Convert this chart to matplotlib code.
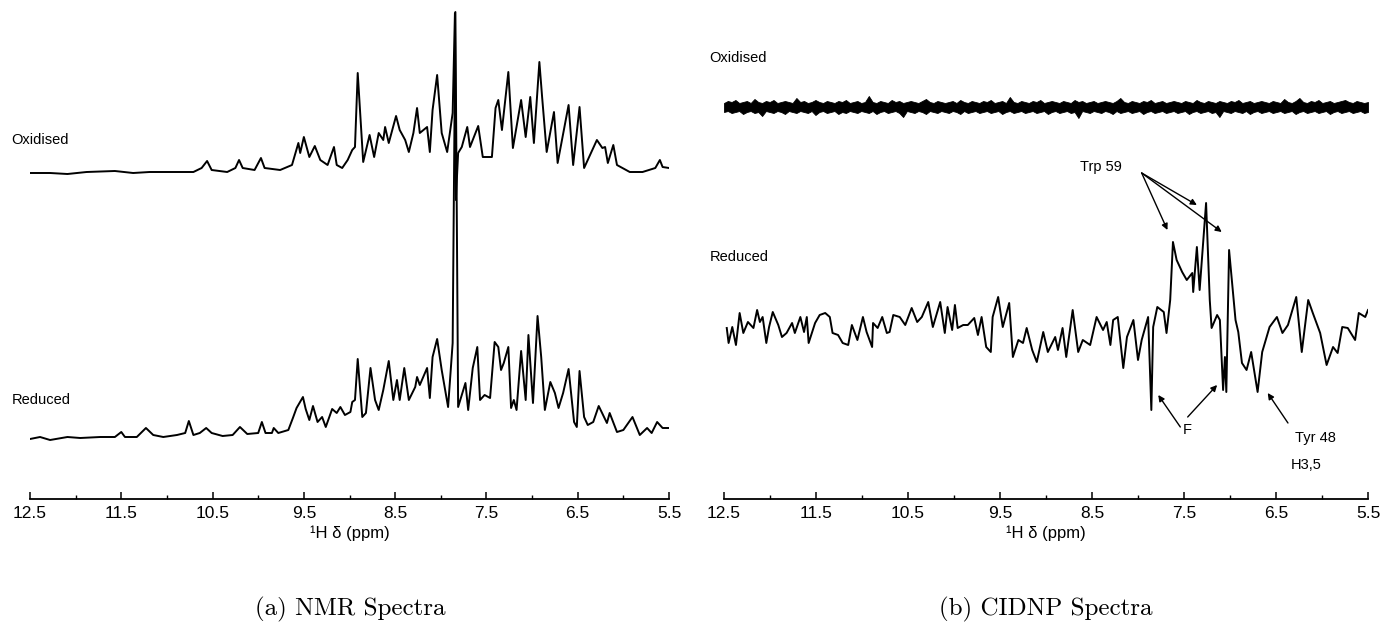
from matplotlib import pyplot as plt
import numpy as np

# Chemical shift limits shared by both panels.
ppmStart = 12.5
ppmEnd = 5.5

# (a) NMR, oxidised trace: shift (ppm) and intensity (a.u.).
nmrOxPpm = [12.50, 12.28, 12.09, 11.88, 11.57, 11.37, 11.19, 10.93, 10.71, 10.62,
            10.56, 10.51, 10.34, 10.25, 10.21, 10.17, 10.04, 9.97, 9.93, 9.76,
            9.63, 9.56, 9.54, 9.50, 9.44, 9.38, 9.32, 9.24, 9.17, 9.14,
            9.08, 9.02, 8.97, 8.94, 8.91, 8.85, 8.78, 8.73, 8.68, 8.63,
            8.61, 8.57, 8.49, 8.45, 8.39, 8.35, 8.30, 8.26, 8.23, 8.15,
            8.12, 8.09, 8.04, 7.99, 7.93, 7.87, 7.845, 7.835, 7.81, 7.77,
            7.71, 7.68, 7.59, 7.54, 7.44, 7.40, 7.37, 7.33, 7.26, 7.21,
            7.12, 7.07, 7.02, 6.98, 6.92, 6.89, 6.84, 6.76, 6.72, 6.60,
            6.55, 6.48, 6.43, 6.29, 6.23, 6.20, 6.17, 6.11, 6.07, 5.93,
            5.79, 5.65, 5.60, 5.57, 5.50]
nmrOxInt = [0, 0, -1, 1, 2, 0, 1, 1, 1, 5,
            12, 3, 1, 5, 13, 5, 3, 15, 5, 3,
            8, 30, 20, 36, 16, 27, 13, 8, 26, 8,
            5, 13, 23, 26, 100, 11, 38, 16, 40, 33,
            46, 30, 57, 43, 33, 21, 40, 65, 40, 46,
            21, 63, 98, 40, 21, 60, 160, -27, 20, 26,
            46, 26, 47, 16, 16, 65, 73, 43, 101, 25,
            73, 36, 76, 30, 111, 76, 21, 61, 10, 68,
            8, 66, 5, 33, 25, 26, 10, 28, 8, 1,
            1, 5, 13, 6, 5]

# (a) NMR, reduced trace.
nmrRedPpm = [12.50, 12.39, 12.28, 12.09, 11.95, 11.73, 11.57, 11.50, 11.46, 11.33,
             11.23, 11.15, 11.04, 10.89, 10.80, 10.76, 10.71, 10.64, 10.57, 10.51,
             10.39, 10.28, 10.20, 10.12, 10.00, 9.96, 9.92, 9.85, 9.83, 9.78,
             9.67, 9.62, 9.58, 9.51, 9.48, 9.44, 9.40, 9.35, 9.30, 9.26,
             9.19, 9.14, 9.10, 9.05, 8.99, 8.97, 8.94, 8.91, 8.86, 8.82,
             8.77, 8.72, 8.68, 8.63, 8.57, 8.52, 8.48, 8.45, 8.40, 8.35,
             8.28, 8.26, 8.23, 8.15, 8.12, 8.09, 8.04, 7.99, 7.92, 7.87,
             7.84, 7.81, 7.77, 7.73, 7.70, 7.65, 7.60, 7.57, 7.52, 7.46,
             7.41, 7.37, 7.34, 7.31, 7.26, 7.23, 7.20, 7.17, 7.12, 7.07,
             7.04, 6.99, 6.94, 6.90, 6.86, 6.80, 6.75, 6.71, 6.66, 6.60,
             6.54, 6.51, 6.48, 6.43, 6.39, 6.33, 6.27, 6.18, 6.15, 6.07,
             6.00, 5.90, 5.82, 5.74, 5.69, 5.63, 5.57, 5.50]
nmrRedInt = [0, 2, -1, 2, 1, 2, 2, 7, 2, 2,
             11, 4, 2, 4, 6, 18, 4, 6, 11, 6,
             3, 4, 12, 5, 6, 17, 6, 6, 11, 6,
             9, 21, 31, 42, 30, 19, 33, 17, 22, 12,
             30, 26, 32, 24, 27, 37, 39, 80, 22, 26,
             71, 39, 29, 49, 78, 39, 59, 39, 71, 39,
             52, 62, 54, 71, 41, 82, 100, 69, 32, 96,
             427, 32, 44, 56, 29, 71, 92, 39, 44, 41,
             97, 92, 69, 76, 92, 31, 39, 29, 88, 39,
             104, 36, 123, 82, 29, 57, 46, 31, 46, 70,
             17, 12, 68, 22, 14, 17, 33, 16, 26, 7,
             9, 22, 4, 11, 6, 17, 11, 11]

# (b) CIDNP, oxidised trace: a flat noise band, upper and lower envelope (a.u.).
cidnpOxUpper = [4, 6, 5, 7, 4, 5, 6, 4, 8, 5, 4, 6, 5, 7, 4, 5, 6, 5, 4, 9,
                5, 6, 4, 5, 7, 5, 4, 6, 5, 4, 6, 5, 7, 4, 5, 6, 4, 5, 11, 5,
                4, 6, 5, 4, 7, 5, 6, 4, 5, 6, 5, 4, 6, 8, 5, 4, 6, 5, 4, 5,
                6, 4, 7, 5, 4, 6, 5, 4, 6, 5, 7, 4, 5, 6, 4, 10, 5, 4, 6, 5,
                4, 6, 5, 7, 4, 5, 6, 5, 4, 6, 5, 4, 7, 5, 6, 4, 5, 6, 4, 5,
                6, 5, 4, 6, 9, 5, 4, 6, 5, 4, 6, 5, 7, 4, 5, 6, 4, 5, 6, 5,
                4, 6, 5, 4, 7, 5, 4, 6, 5, 4, 6, 5, 4, 6, 5, 7, 4, 5, 6, 4,
                5, 6, 5, 4, 6, 5, 4, 8, 5, 4, 6, 9, 5, 4, 6, 5, 7, 4, 5, 6,
                4, 5, 6, 7, 5, 4, 6, 5, 4, 5]
cidnpOxLower = [5, 4, 6, 5, 4, 7, 5, 4, 6, 5, 9, 4, 5, 6, 4, 5, 7, 4, 5, 6,
                4, 5, 6, 4, 8, 5, 4, 6, 5, 4, 7, 5, 6, 4, 5, 6, 4, 5, 6, 4,
                7, 5, 4, 6, 5, 4, 6, 10, 4, 5, 6, 4, 5, 7, 4, 5, 6, 4, 5, 6,
                4, 5, 7, 4, 6, 5, 4, 6, 5, 4, 6, 5, 4, 7, 5, 4, 6, 5, 4, 6,
                5, 4, 6, 5, 4, 7, 5, 4, 6, 5, 4, 6, 5, 11, 4, 5, 6, 4, 5, 6,
                4, 5, 7, 4, 6, 5, 4, 6, 5, 4, 7, 5, 4, 6, 5, 4, 6, 5, 4, 6,
                5, 4, 7, 5, 4, 6, 5, 4, 6, 5, 10, 4, 5, 6, 4, 5, 6, 4, 7, 5,
                4, 6, 5, 4, 6, 5, 4, 6, 5, 4, 7, 5, 4, 6, 5, 4, 6, 5, 4, 7,
                5, 4, 6, 5, 4, 6, 5, 4, 6, 5]

# (b) CIDNP, reduced trace.
cidnpRedPpm = [12.47, 12.45, 12.41, 12.37, 12.33, 12.29, 12.24, 12.18, 12.14, 12.11,
               12.08, 12.04, 12.01, 11.97, 11.91, 11.87, 11.82, 11.76, 11.73, 11.67,
               11.63, 11.60, 11.58, 11.51, 11.46, 11.40, 11.35, 11.32, 11.26, 11.21,
               11.15, 11.11, 11.05, 10.99, 10.95, 10.89, 10.88, 10.83, 10.78, 10.73,
               10.70, 10.66, 10.59, 10.53, 10.46, 10.40, 10.35, 10.28, 10.23, 10.15,
               10.10, 10.07, 10.02, 9.99, 9.96, 9.90, 9.85, 9.78, 9.74, 9.70,
               9.65, 9.60, 9.58, 9.52, 9.47, 9.40, 9.36, 9.30, 9.25, 9.21,
               9.15, 9.10, 9.03, 8.98, 8.90, 8.87, 8.82, 8.78, 8.71, 8.65,
               8.60, 8.52, 8.45, 8.38, 8.34, 8.30, 8.27, 8.22, 8.16, 8.12,
               8.05, 8.00, 7.96, 7.89, 7.855, 7.835, 7.79, 7.72, 7.69, 7.65,
               7.62, 7.58, 7.52, 7.47, 7.41, 7.40, 7.36, 7.33, 7.26, 7.22,
               7.20, 7.14, 7.11, 7.075, 7.055, 7.04, 7.01, 6.94, 6.91, 6.87,
               6.82, 6.77, 6.70, 6.65, 6.57, 6.49, 6.43, 6.37, 6.28, 6.22,
               6.15, 6.10, 6.02, 5.95, 5.88, 5.83, 5.78, 5.72, 5.64, 5.60,
               5.53, 5.50]
cidnpRedInt = [2, -13, 3, -15, 17, -3, 8, 2, 20, 8,
               13, -13, 3, 18, 5, -7, -3, 7, -3, 13,
               -2, 13, -13, 7, 15, 17, 13, -3, -5, -13,
               -15, 5, -10, 13, -2, -17, 7, 2, 13, -3,
               -2, 15, 13, 5, 22, 8, 13, 28, 3, 28,
               -3, 23, 0, 25, 2, 5, 5, 12, -5, 13,
               -17, -22, 13, 33, 3, 27, -27, -10, -13, 2,
               -20, -32, -2, -22, -7, -20, 2, -27, 20, -22,
               -10, -15, 13, 0, 8, -15, 10, 13, -38, -7,
               10, -30, -10, 13, -80, 3, 23, 18, -3, 30,
               88, 70, 58, 50, 57, 38, 83, 40, 127, 30,
               2, 15, 10, -60, -27, -62, 80, 10, -2, -33,
               -40, -22, -62, -22, 3, 13, -3, 5, 33, -22,
               30, 17, -3, -35, -17, -23, 3, 2, -10, 17,
               13, 20]

# Vertical offsets of the stacked traces (a.u. above the shift axis).
nmrOffsets = {'Oxidised': 326, 'Reduced': 60}
cidnpOffsets = {'Oxidised': 392, 'Reduced': 169}

lineKw = dict(color='black', lw=1.4, solid_joinstyle='round')
labelFont = dict(family='Liberation Sans', size=10.5)
figW, figH = 1387, 640


def styleShiftAxis(ax):
  ax.set_xlim(ppmStart, ppmEnd)
  ax.set_ylim(0, 499)
  for side in ['top', 'left', 'right']:
    ax.spines[side].set_visible(False)
  ax.spines['bottom'].set_linewidth(1.3)
  ax.set_yticks([])
  ax.set_xticks(np.arange(12.5, 5.4, -1.0))
  ax.set_xticks(np.arange(12.0, 5.9, -1.0), minor=True)
  ax.set_xticklabels(['12.5', '11.5', '10.5', '9.5', '8.5', '7.5', '6.5', '5.5'])
  ax.tick_params(axis='x', which='major', direction='in', length=5, width=1.1,
                 pad=5, labelsize=12.5)
  ax.tick_params(axis='x', which='minor', direction='in', length=3, width=1.0)
  for lab in ax.get_xticklabels():
    lab.set_family('Liberation Sans')
  ax.set_xlabel('\u00b9H \u03b4 (ppm)', fontsize=12, family='Liberation Sans',
                labelpad=3)


def generatePlot():
  fig = plt.figure(figsize=(figW / 100, figH / 100), dpi=100)
  bottom = 1 - 499 / figH
  axNmr = fig.add_axes([30 / figW, bottom, 639 / figW, 499 / figH])
  axCidnp = fig.add_axes([724 / figW, bottom, 644 / figW, 499 / figH])
  for ax in (axNmr, axCidnp):
    ax.patch.set_visible(False)
    styleShiftAxis(ax)

  # (a) NMR spectra.
  axNmr.plot(nmrOxPpm, np.array(nmrOxInt) + nmrOffsets['Oxidised'], **lineKw)
  axNmr.plot(nmrRedPpm, np.array(nmrRedInt) + nmrOffsets['Reduced'], **lineKw)
  axNmr.text(12.70, 359, 'Oxidised', ha='left', va='center', clip_on=False, **labelFont)
  axNmr.text(12.70, 99, 'Reduced', ha='left', va='center', clip_on=False, **labelFont)

  # (b) CIDNP spectra.
  bandPpm = np.linspace(ppmStart, ppmEnd, len(cidnpOxUpper))
  axCidnp.fill_between(bandPpm,
                       cidnpOffsets['Oxidised'] - np.array(cidnpOxLower),
                       cidnpOffsets['Oxidised'] + np.array(cidnpOxUpper),
                       color='black', lw=0.6)
  axCidnp.plot(cidnpRedPpm, np.array(cidnpRedInt) + cidnpOffsets['Reduced'], **lineKw)
  axCidnp.text(12.66, 441, 'Oxidised', ha='left', va='center', clip_on=False, **labelFont)
  axCidnp.text(12.66, 242, 'Reduced', ha='left', va='center', clip_on=False, **labelFont)

  # Peak assignments.
  arrowKw = dict(arrowstyle='-|>', color='black', lw=1.0, mutation_scale=9,
                 shrinkA=0, shrinkB=0)
  axCidnp.text(8.63, 332, 'Trp 59', ha='left', va='center', **labelFont)
  for tip in [(7.68, 269), (7.36, 294), (7.09, 267)]:
    axCidnp.annotate('', xy=tip, xytext=(7.96, 326), arrowprops=arrowKw)
  axCidnp.text(7.47, 69, 'F', ha='center', va='center', **labelFont)
  axCidnp.annotate('', xy=(7.78, 104), xytext=(7.54, 72), arrowprops=arrowKw)
  axCidnp.annotate('', xy=(7.14, 114), xytext=(7.46, 82), arrowprops=arrowKw)
  axCidnp.text(6.07, 61, 'Tyr 48', ha='center', va='center', **labelFont)
  axCidnp.text(6.17, 34, 'H3,5', ha='center', va='center', **labelFont)
  axCidnp.annotate('', xy=(6.59, 106), xytext=(6.37, 76), arrowprops=arrowKw)

  # Sub-figure captions.
  fig.text(350 / figW, 1 - 609 / figH, '(a) NMR Spectra', ha='center', va='center',
           family='cmr10', fontsize=18)
  fig.text(1046 / figW, 1 - 609 / figH, '(b) CIDNP Spectra', ha='center', va='center',
           family='cmr10', fontsize=18)

  fig.savefig('out.png', dpi=100)


if __name__ == '__main__':
  generatePlot()
